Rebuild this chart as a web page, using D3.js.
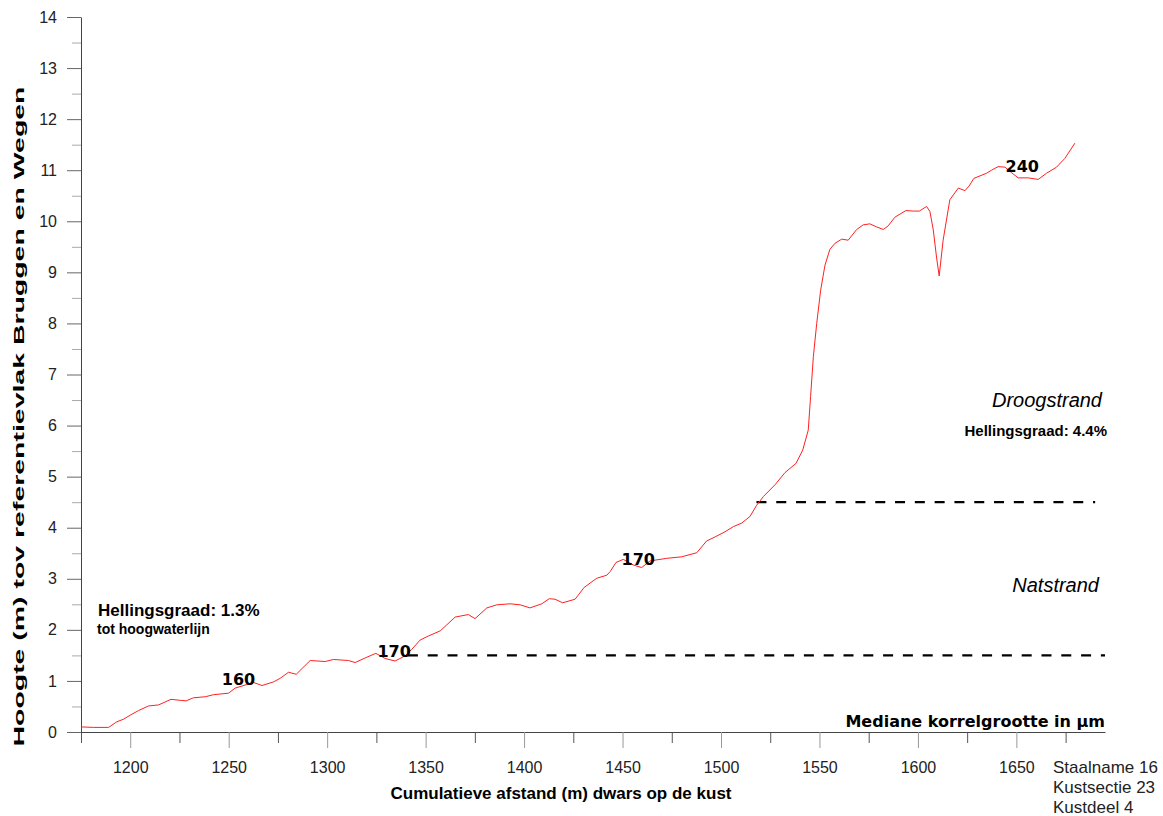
<!DOCTYPE html>
<html>
<head>
<meta charset="utf-8">
<script src="https://cdn.jsdelivr.net/npm/d3@7"></script>
<style>
	body { margin: 0; background: #fff; }
	text { font-family: "Liberation Sans", Arial, sans-serif; }
	.tick text { font-size: 16px; fill: #222; }
	.grain { font-family: "DejaVu Sans", Verdana, sans-serif; font-weight: bold; font-size: 16px; }
</style>
</head>
<body>
<svg id="chart"></svg>
<script>
// profile: cumulative distance (m) and height (m)
const distance = [1175, 1181.4, 1189, 1193.2, 1196.6, 1200, 1204.2, 1209.3, 1214.4, 1220.7,
	1225.4, 1228.4, 1232.1, 1238.1, 1242.3, 1249.9, 1253.3, 1259.2, 1262.6, 1266.9,
	1272.7, 1276.1, 1280.4, 1284.3, 1287.7, 1291.4, 1299, 1303.2, 1310.8, 1314.2,
	1319.3, 1324.7, 1329.4, 1334.5, 1339.6, 1343, 1347.2, 1351.4, 1357.4, 1360.8,
	1365, 1371.7, 1375.1, 1381.1, 1386.1, 1392.9, 1398, 1403, 1409, 1412.8,
	1415.7, 1419.6, 1425.9, 1430.5, 1436.9, 1442, 1443.7, 1446.7, 1450.4, 1455.5,
	1459.7, 1464, 1472.4, 1480, 1487.7, 1492.7, 1497, 1502, 1506.2, 1510.5,
	1514.7, 1518.1, 1521.5, 1527.4, 1532.5, 1538.1, 1541.5, 1544.3, 1545.5, 1546.9,
	1548.6, 1550.6, 1552.8, 1555.3, 1557.9, 1561.3, 1564.6, 1568.9, 1572.2, 1575.6,
	1579, 1582.4, 1584.9, 1588.3, 1593.9, 1597.6, 1600.7, 1604.4, 1606.1, 1607.8,
	1609.5, 1610.8, 1612.8, 1616.2, 1620.5, 1623.9, 1626, 1628.4, 1634.8, 1637.4,
	1640.7, 1644.2, 1647.6, 1650.9, 1656, 1661.1, 1665.3, 1670.4, 1674.6, 1679.7];

const height = [0.10, 0.09, 0.09, 0.20, 0.25, 0.33, 0.42, 0.51, 0.53, 0.64,
	0.62, 0.61, 0.67, 0.69, 0.73, 0.76, 0.86, 0.93, 0.97, 0.91,
	0.98, 1.05, 1.17, 1.13, 1.26, 1.40, 1.38, 1.42, 1.40, 1.36,
	1.45, 1.54, 1.44, 1.39, 1.49, 1.62, 1.80, 1.88, 1.98, 2.10,
	2.25, 2.30, 2.22, 2.43, 2.49, 2.51, 2.49, 2.43, 2.51, 2.61,
	2.60, 2.53, 2.60, 2.83, 3.01, 3.07, 3.14, 3.32, 3.38, 3.27,
	3.22, 3.35, 3.40, 3.43, 3.51, 3.74, 3.82, 3.92, 4.02, 4.09,
	4.22, 4.44, 4.61, 4.84, 5.08, 5.26, 5.52, 5.91, 6.57, 7.35,
	8.00, 8.65, 9.14, 9.45, 9.57, 9.65, 9.63, 9.84, 9.93, 9.95,
	9.89, 9.84, 9.91, 10.08, 10.21, 10.20, 10.20, 10.29, 10.19, 9.83,
	9.28, 8.93, 9.63, 10.42, 10.65, 10.60, 10.69, 10.84, 10.94, 11.00,
	11.07, 11.06, 10.95, 10.85, 10.85, 10.82, 10.94, 11.06, 11.23, 11.53];

// median grain size samples (µm) along the profile
const grainSize = ["160", "170", "170", "240"];
const grainDist = [1255, 1334, 1458, 1653];
const grainHeight = [0.92, 1.46, 3.27, 10.97];

// beach zone boundaries (hoogwaterlijn, duinvoet)
const zoneLevel = [1.5, 4.5];
const zoneFrom = [1341, 1518];
const zoneTo = [1695, 1690];

// axis ticks
const xMajor = [1200, 1250, 1300, 1350, 1400, 1450, 1500, 1550, 1600, 1650];
const xMinor = [1175, 1225, 1275, 1325, 1375, 1425, 1475, 1525, 1575, 1625, 1675];
const yMajor = d3.range(0, 15, 1);
const yMinor = d3.range(0.5, 14, 1);

const sampleInfo = ["Staalname 16", "Kustsectie 23", "Kustdeel 4"];

let w = 1163, h = 816;
let leftMargin = 81, rightEdge = 1105, topEdge = 17, baseLine = 732;

let chart = d3.select('#chart')
	.attr('width', w)
	.attr('height', h);

let xScale = d3.scaleLinear().domain([1175, 1695]).range([leftMargin, rightEdge]);
let yScale = d3.scaleLinear().domain([0, 14]).range([baseLine, topEdge]);

// minor ticks first, so the major axis draws over them
chart.append('g')
	.attr('transform', `translate(0, ${baseLine})`)
	.call(d3.axisBottom(xScale).tickValues(xMinor).tickSize(11).tickSizeOuter(0).tickFormat(''))
	.call(g => g.select('.domain').remove())
	.call(g => g.selectAll('.tick line').attr('stroke', '#555'));

chart.append('g')
	.attr('transform', `translate(${leftMargin}, 0)`)
	.call(d3.axisLeft(yScale).tickValues(yMinor).tickSize(9).tickSizeOuter(0).tickFormat(''))
	.call(g => g.select('.domain').remove())
	.call(g => g.selectAll('.tick line').attr('stroke', '#aaa'));

let xAxisGroup = chart.append('g')
	.attr('transform', `translate(0, ${baseLine})`)
	.call(d3.axisBottom(xScale).tickValues(xMajor).tickFormat(d3.format('d'))
		.tickSize(16).tickSizeOuter(0).tickPadding(14));
xAxisGroup.selectAll('.tick line').attr('stroke', '#999');
xAxisGroup.select('.domain').attr('stroke', '#444');

let yAxisGroup = chart.append('g')
	.attr('transform', `translate(${leftMargin}, 0)`)
	.call(d3.axisLeft(yScale).tickValues(yMajor).tickFormat(d3.format('d'))
		.tickSize(14).tickSizeOuter(0).tickPadding(10));
yAxisGroup.selectAll('.tick line').attr('stroke', '#666');
yAxisGroup.select('.domain').attr('stroke', '#444');

// dashed zone boundaries
chart.selectAll('.zone')
	.data(zoneLevel)
	.enter()
	.append('line')
	.attr('class', 'zone')
	.attr('x1', (d, i) => xScale(zoneFrom[i]))
	.attr('x2', (d, i) => xScale(zoneTo[i]))
	.attr('y1', d => yScale(d))
	.attr('y2', d => yScale(d))
	.attr('stroke', '#000')
	.attr('stroke-width', 2.2)
	.attr('stroke-dasharray', '10,9.8');

// the profile
let line = d3.line()
	.x(d => xScale(d[0]))
	.y(d => yScale(d[1]));

chart.append('path')
	.datum(d3.zip(distance, height))
	.attr('d', line)
	.attr('fill', 'none')
	.attr('stroke', '#ff2020')
	.attr('stroke-width', 1);

// grain size labels
chart.selectAll('.grain')
	.data(grainSize)
	.enter()
	.append('text')
	.attr('class', 'grain')
	.attr('x', (d, i) => xScale(grainDist[i]))
	.attr('y', (d, i) => yScale(grainHeight[i]))
	.attr('text-anchor', 'middle')
	.text(d => d);

// LABELS
chart.append('text')
	.attr('transform', 'translate(23.5, 416.5) rotate(-90)')
	.attr('text-anchor', 'middle')
	.attr('textLength', 660)
	.attr('lengthAdjust', 'spacingAndGlyphs')
	.style('font-size', '15.5px')
	.style('font-weight', 'bold')
	.text('Hoogte (m) tov referentievlak Bruggen en Wegen');

chart.append('text')
	.attr('x', 561)
	.attr('y', 799)
	.attr('text-anchor', 'middle')
	.style('font-size', '17px')
	.style('font-weight', 'bold')
	.text('Cumulatieve afstand (m) dwars op de kust');

chart.append('text')
	.attr('class', 'grain')
	.attr('x', rightEdge)
	.attr('y', 727)
	.attr('text-anchor', 'end')
	.text('Mediane korrelgrootte in µm');

chart.append('text')
	.attr('x', 98)
	.attr('y', 616)
	.style('font-size', '17px')
	.style('font-weight', 'bold')
	.text('Hellingsgraad: 1.3%');

chart.append('text')
	.attr('x', 97)
	.attr('y', 634)
	.style('font-size', '14px')
	.style('font-weight', 'bold')
	.text('tot hoogwaterlijn');

chart.append('text')
	.attr('x', 1102)
	.attr('y', 407)
	.attr('text-anchor', 'end')
	.style('font-size', '20px')
	.style('font-style', 'italic')
	.text('Droogstrand');

chart.append('text')
	.attr('x', 1107)
	.attr('y', 436)
	.attr('text-anchor', 'end')
	.style('font-size', '15px')
	.style('font-weight', 'bold')
	.text('Hellingsgraad: 4.4%');

chart.append('text')
	.attr('x', 1099)
	.attr('y', 592)
	.attr('text-anchor', 'end')
	.style('font-size', '20px')
	.style('font-style', 'italic')
	.text('Natstrand');

chart.selectAll('.info')
	.data(sampleInfo)
	.enter()
	.append('text')
	.attr('class', 'info')
	.attr('x', 1053)
	.attr('y', (d, i) => 773 + i * 20)
	.style('font-size', '17px')
	.style('fill', '#222')
	.text(d => d);
</script>
</body>
</html>
